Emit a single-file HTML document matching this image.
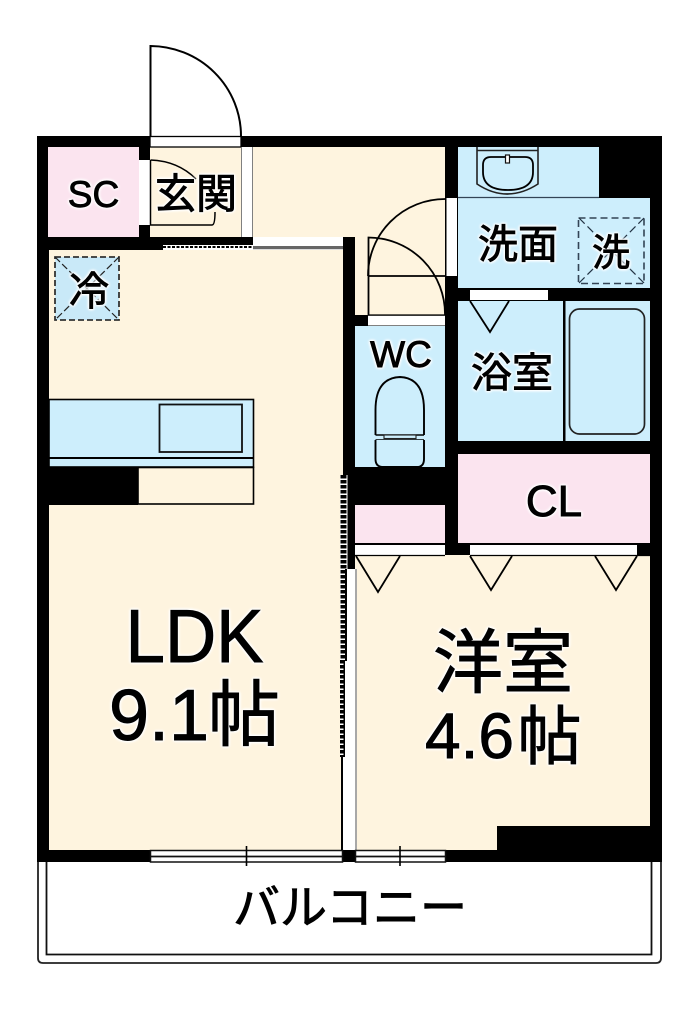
<!DOCTYPE html>
<html><head><meta charset="utf-8"><style>
html,body{margin:0;padding:0;background:#fff}
svg{display:block}
text{font-family:"Liberation Sans","Noto Sans CJK JP",sans-serif;fill:#000;stroke:#000;stroke-width:.9px;filter:drop-shadow(0 0 1px #fff) drop-shadow(0 0 1px #fff) drop-shadow(0 0 1px #fff)}
</style></head><body>
<svg width="700" height="1016" viewBox="0 0 700 1016" xmlns="http://www.w3.org/2000/svg">
<rect width="700" height="1016" fill="#fff"/>
<!-- balcony -->
<path d="M38 860V958Q38 963 43 963H656Q661 963 661 958V860" fill="none" stroke="#222" stroke-width="1.800"/>
<path d="M46.500 860V954.500H651.500V860" fill="none" stroke="#111" stroke-width="1.800"/>
<!-- walls base -->
<rect x="37" y="136" width="625" height="726" fill="#000"/>
<!-- rooms -->
<rect x="48" y="147" width="91" height="90" fill="#fbe4ef"/>
<rect x="150" y="147" width="91" height="90" fill="#fef4df"/>
<rect x="253" y="147" width="192" height="90" fill="#fef4df"/>
<rect x="355" y="237" width="90" height="78" fill="#fef4df"/>
<rect x="49" y="250" width="294" height="600" fill="#fef4df"/>
<rect x="458" y="147" width="141" height="52" fill="#cdeefc"/>
<rect x="458" y="198" width="192" height="90" fill="#cdeefc"/>
<rect x="458" y="301" width="192" height="140" fill="#cdeefc"/>
<rect x="355" y="326" width="90" height="141" fill="#cdeefc"/>
<rect x="355" y="505" width="90" height="38" fill="#fbe4ef"/>
<rect x="458" y="454" width="192" height="89" fill="#fbe4ef"/>
<rect x="355" y="555" width="295" height="295" fill="#fef4df"/>
<rect x="497" y="826" width="153" height="25" fill="#000"/>
<!-- entry door -->
<path d="M150.500 136V46A91 90 0 0 1 241 136" fill="#fff" stroke="#000" stroke-width="2"/>
<rect x="150" y="136.500" width="91" height="10.500" fill="#fff" stroke="#000" stroke-width="1.300"/>
<rect x="241.500" y="147" width="11" height="90" fill="#fff"/>
<rect x="139" y="160" width="11" height="65" fill="#fff"/>
<!-- genkan inner -->
<path d="M150.500 160V225H212Q215 225 215 212" fill="none" stroke="#000" stroke-width="1.500"/>
<path d="M150.500 160Q178 161 196 179" fill="none" stroke="#000" stroke-width="1.500"/>
<!-- top LDK strips -->
<rect x="163" y="245" width="90" height="5" fill="#fff"/>
<path d="M163 247H253" stroke="#000" stroke-width="2" stroke-dasharray="3 1.500"/>
<rect x="253" y="237" width="90" height="9" fill="#fff"/>
<rect x="253" y="246" width="90" height="3" fill="#666"/>
<rect x="253" y="249" width="90" height="1" fill="#ddd"/>
<!-- fridge -->
<rect x="55" y="257" width="64" height="63" fill="#c9e9f8"/>
<rect x="55" y="257" width="64" height="63" fill="none" stroke="#333" stroke-width="1.800" stroke-dasharray="6 3"/>
<path d="M55 257L119 320M119 257L55 320" stroke="#222" stroke-width="1.200" stroke-dasharray="7 3" fill="none"/>
<!-- kitchen counter -->
<rect x="49" y="399.500" width="204.500" height="67.500" fill="#cdeefc" stroke="#000" stroke-width="1.600"/>
<rect x="159.500" y="404.500" width="82.500" height="47.500" fill="#cdeefc" stroke="#111" stroke-width="1.800"/>
<rect x="49" y="457" width="205" height="2" fill="#000"/>
<rect x="37" y="467" width="101" height="38" fill="#000"/>
<rect x="138" y="467.500" width="115.500" height="36.500" fill="#fef4df" stroke="#000" stroke-width="1.600"/>
<!-- sink -->
<path d="M477 147V184Q507 204 538 184V147" fill="none" stroke="#222" stroke-width="1.600"/>
<path d="M477 150.500H538" stroke="#222" stroke-width="1.600"/>
<path d="M483 165Q483 157 491 157H525Q533 157 533 165V172Q533 190 508 190Q483 190 483 172Z" fill="none" stroke="#000" stroke-width="1.800"/>
<rect x="505.500" y="155" width="4" height="8" fill="#fff" stroke="#111" stroke-width="1.200"/>
<path d="M458 197.500H599" stroke="#345" stroke-width="1.200"/>
<!-- wash door -->
<rect x="446.500" y="198" width="10.500" height="78" fill="#fff"/>
<!-- washer -->
<rect x="578.500" y="218" width="65.500" height="65.500" fill="none" stroke="#345" stroke-width="1.600" stroke-dasharray="7 4"/>
<path d="M579 218L644 283M644 218L579 283" stroke="#234" stroke-width="1.200" stroke-dasharray="8 4" fill="none"/>
<!-- wc door -->
<path d="M445 199A77 77 0 0 0 368 276" fill="none" stroke="#000" stroke-width="1.800"/>
<path d="M368.500 315V237.500A77 77 0 0 1 445 315" fill="none" stroke="#000" stroke-width="1.800"/>
<path d="M368 276H445" stroke="#000" stroke-width="1.700"/>
<path d="M368 315H445" stroke="#000" stroke-width="1.300"/>
<rect x="368" y="315.800" width="77" height="9.700" fill="#fff"/>
<!-- bath door -->
<rect x="470" y="290" width="78" height="10" fill="#fff"/>
<path d="M470 301L490 332L509 301" fill="none" stroke="#000" stroke-width="1.800"/>
<!-- bath tub -->
<rect x="563" y="301" width="2.500" height="140" fill="#000"/>
<rect x="569.500" y="309" width="75" height="125" rx="10" fill="#cdeefc" stroke="#222" stroke-width="1.700"/>
<!-- toilet -->
<path d="M375.500 435V410Q375.500 378 400 377Q424 378 424 410V435" fill="#cdeefc" stroke="#000" stroke-width="1.900"/>
<path d="M375.500 435H424M375.500 440H424" stroke="#000" stroke-width="1.600"/>
<rect x="384" y="435" width="32" height="3.500" fill="#cdeefc" stroke="#222" stroke-width="1.100"/>
<path d="M375.500 440V459Q375.500 467 383 467H417Q424 467 424 459V440" fill="#cdeefc" stroke="#000" stroke-width="1.900"/>
<!-- closet doors -->
<rect x="355" y="545" width="90" height="10" fill="#fff"/>
<rect x="470" y="545" width="167" height="10" fill="#fff"/>
<path d="M355 555.500H445M470 555.500H650" stroke="#000" stroke-width="1.300"/>
<path d="M356 556L378 592L400 556" fill="none" stroke="#000" stroke-width="1.800"/>
<path d="M470 556L491 590L512 556" fill="none" stroke="#000" stroke-width="1.800"/>
<path d="M595 556L616 590L637 556" fill="none" stroke="#000" stroke-width="1.800"/>
<!-- sliding partition -->
<rect x="343" y="237" width="12" height="238" fill="#000"/>
<rect x="347" y="475" width="8" height="94" fill="#000"/>
<rect x="347" y="569" width="8" height="281" fill="#fff"/>
<rect x="343" y="660" width="4" height="190" fill="#fff"/>
<rect x="355" y="569" width="2" height="281" fill="#a8a8a8"/>
<rect x="340" y="475" width="7.500" height="185" fill="#fff"/>
<path d="M343.500 475V660" stroke="#000" stroke-width="6" stroke-dasharray="3.500 1.500"/>
<rect x="345" y="569" width="2" height="92" fill="#000"/>
<rect x="340" y="660" width="4.500" height="97" fill="#fff"/>
<path d="M342 660V757" stroke="#000" stroke-width="4" stroke-dasharray="3.500 1.500"/>
<rect x="343.500" y="660" width="1.500" height="97" fill="#000"/>
<rect x="341" y="757" width="2" height="93" fill="#000"/>
<!-- windows -->
<rect x="150.500" y="850.500" width="192" height="11.500" fill="#fff" stroke="#111" stroke-width="1.500"/>
<path d="M150 856.500H342" stroke="#111" stroke-width="1.800"/>
<path d="M246.500 846V866" stroke="#000" stroke-width="1.600"/>
<rect x="355.500" y="850.500" width="90" height="11.500" fill="#fff" stroke="#111" stroke-width="1.500"/>
<path d="M355 856.500H445" stroke="#111" stroke-width="1.800"/>
<path d="M400 846V866" stroke="#000" stroke-width="1.600"/>
<!-- labels -->
<text x="93.500" y="207" font-size="37" text-anchor="middle">SC</text>
<text x="196" y="208" font-size="41" text-anchor="middle">玄関</text>
<text x="89" y="305" font-size="40" text-anchor="middle">冷</text>
<text x="518" y="258" font-size="40" text-anchor="middle">洗面</text>
<text x="611" y="266" font-size="38" text-anchor="middle">洗</text>
<text x="401" y="367" font-size="37" text-anchor="middle">WC</text>
<text x="512" y="387" font-size="41" text-anchor="middle">浴室</text>
<text x="554" y="516" font-size="44" text-anchor="middle">CL</text>
<text x="194.500" y="662" font-size="75" text-anchor="middle" textLength="138" lengthAdjust="spacingAndGlyphs">LDK</text>
<text x="109" y="740" font-size="72">9.1</text>
<text x="244" y="740" font-size="72" text-anchor="middle">帖</text>
<text x="503" y="687" font-size="70" text-anchor="middle">洋室</text>
<text x="425" y="758" font-size="64">4.6</text>
<text x="549.500" y="759" font-size="64" text-anchor="middle">帖</text>
<text x="350" y="924" font-size="47" text-anchor="middle">バルコニー</text>
</svg>
</body></html>
